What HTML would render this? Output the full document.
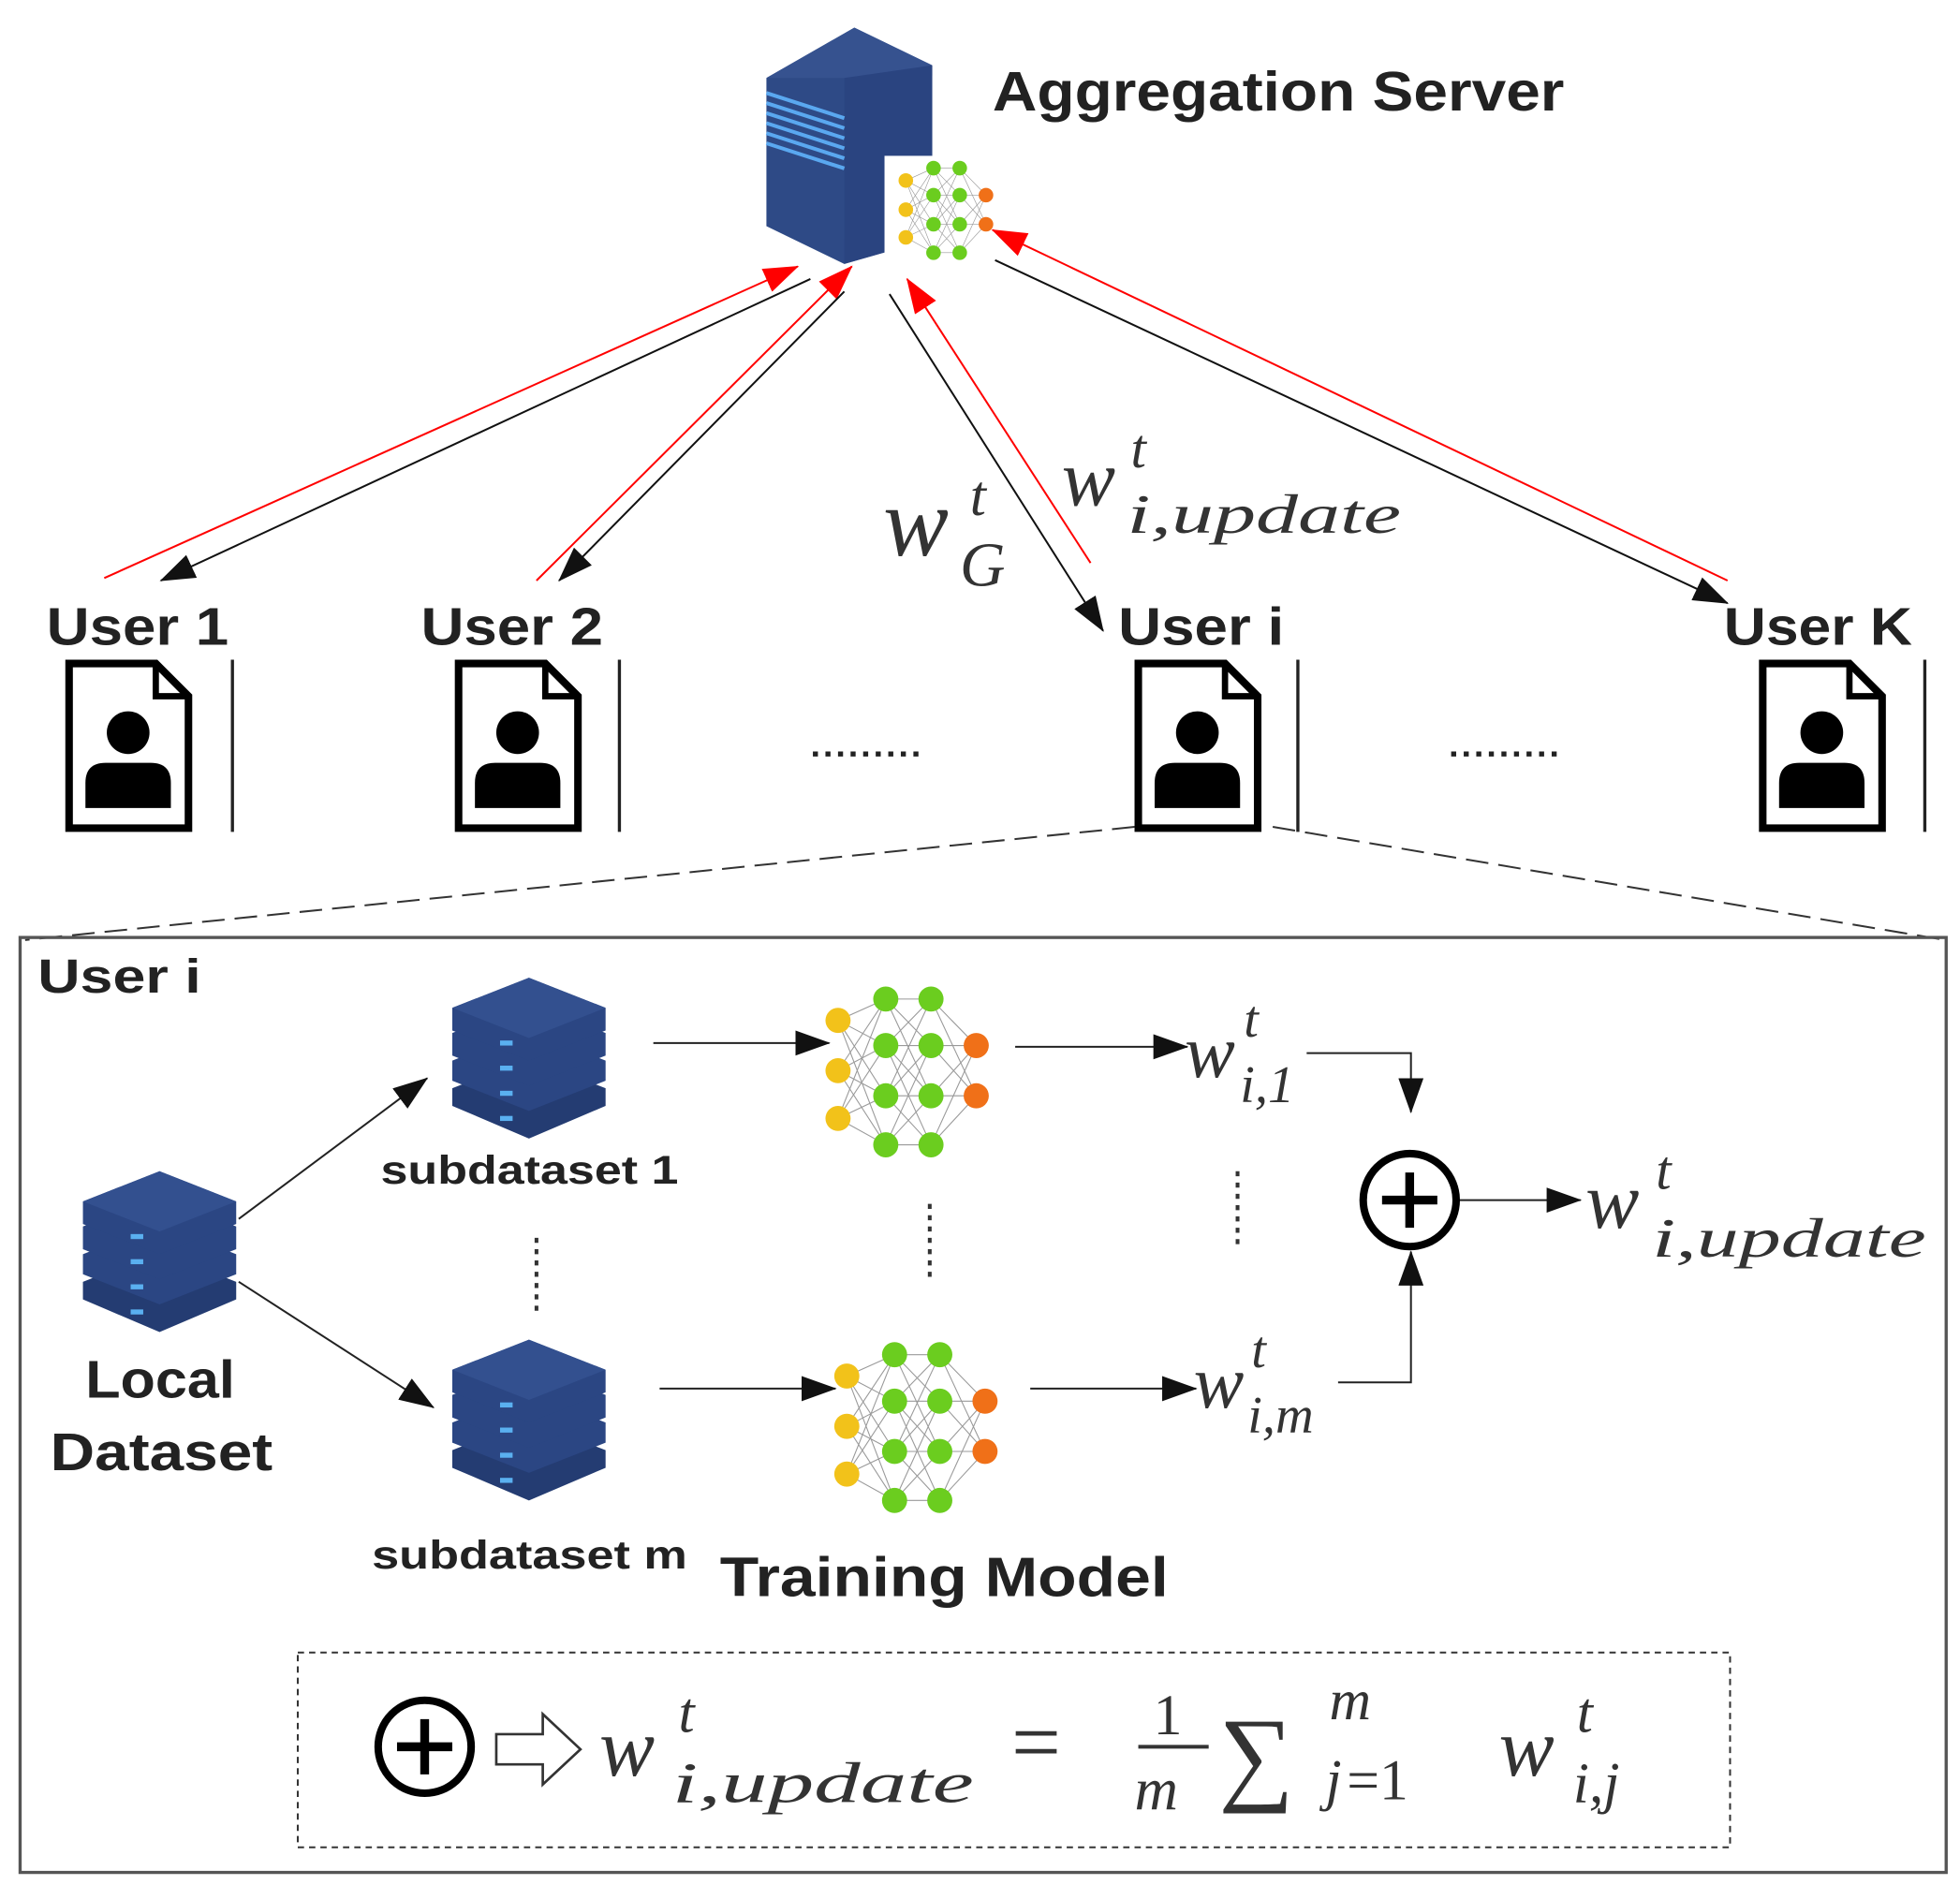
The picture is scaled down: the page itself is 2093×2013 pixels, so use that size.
<!DOCTYPE html>
<html><head><meta charset="utf-8"><style>
html,body{margin:0;padding:0;background:#fff;}
svg{display:block;}
.b{font-family:"Liberation Sans",sans-serif;font-weight:bold;fill:#222;}
.m{font-family:"Liberation Serif",serif;font-style:italic;fill:#333;}
</style></head><body>
<svg width="2093" height="2013" viewBox="0 0 1560 1500" preserveAspectRatio="none" xmlns="http://www.w3.org/2000/svg">
<defs>
<marker id="akb" markerWidth="28" markerHeight="20" refX="27" refY="10" orient="auto" markerUnits="userSpaceOnUse"><path d="M0,0 L28,10 L0,20z" fill="#111"/></marker>
<marker id="arb" markerWidth="28" markerHeight="20" refX="27" refY="10" orient="auto" markerUnits="userSpaceOnUse"><path d="M0,0 L28,10 L0,20z" fill="#f00"/></marker>
<g id="doc">
<path d="M3,3 L72,3 L98,29 L98,134 L3,134 Z" fill="#fff" stroke="#000" stroke-width="6"/>
<path d="M72,3 L72,29 L98,29" fill="none" stroke="#000" stroke-width="5"/>
<circle cx="50" cy="58" r="17" fill="#000"/>
<path d="M16,118 L16,98 Q16,82 32,82 L68,82 Q84,82 84,98 L84,118 Z" fill="#000"/>
</g>
<g id="db">
<g fill="#2b4683">
<path d="M0,82 L61,58 L122,82 L122,96 L61,122 L0,96Z" fill="#243c72"/>
<path d="M0,60 L61,36 L122,60 L122,76 L61,100 L0,76Z"/>
<path d="M0,38 L61,14 L122,38 L122,56 L61,80 L0,56Z"/>
<path d="M0,18 L61,-6 L122,18 L122,36 L61,60 L0,36Z"/>
<path d="M0,18 L61,-6 L122,18 L61,42Z" fill="#33508f"/>
</g>
<g fill="#5ab0f0"><rect x="38" y="44" width="10" height="4"/><rect x="38" y="64" width="10" height="4"/><rect x="38" y="84" width="10" height="4"/><rect x="38" y="104" width="10" height="4"/></g>
</g>
<g id="nn">
<g stroke="#999" stroke-width="0.8">
<path d="M12,27 L50,10 M12,27 L50,47 M12,27 L50,87 M12,27 L50,126 M12,67 L50,10 M12,67 L50,47 M12,67 L50,87 M12,67 L50,126 M12,105 L50,10 M12,105 L50,47 M12,105 L50,87 M12,105 L50,126"/>
<path d="M50,10 L86,47 M50,10 L86,87 M50,47 L86,10 M50,47 L86,87 M50,47 L86,126 M50,87 L86,10 M50,87 L86,47 M50,87 L86,126 M50,126 L86,47 M50,126 L86,87 M50,10 L86,10 M50,47 L86,47 M50,87 L86,87 M50,126 L86,126"/>
<path d="M86,10 L122,47 M86,47 L122,47 M86,87 L122,47 M86,126 L122,47 M86,10 L122,87 M86,47 L122,87 M86,87 L122,87 M86,126 L122,87"/>
</g>
<g fill="#f2c21a"><circle cx="12" cy="27" r="10"/><circle cx="12" cy="67" r="10"/><circle cx="12" cy="105" r="10"/></g>
<g fill="#6bcd1f"><circle cx="50" cy="10" r="10"/><circle cx="50" cy="47" r="10"/><circle cx="50" cy="87" r="10"/><circle cx="50" cy="126" r="10"/><circle cx="86" cy="10" r="10"/><circle cx="86" cy="47" r="10"/><circle cx="86" cy="87" r="10"/><circle cx="86" cy="126" r="10"/></g>
<g fill="#f07018"><circle cx="122" cy="47" r="10"/><circle cx="122" cy="87" r="10"/></g>
</g>
</defs>

<!-- server -->
<path d="M610,62 L680,22 L742,52 L742,190 L672,210 L610,180Z" fill="#2e4a86"/>
<path d="M672,60 L742,52 L742,190 L672,210Z" fill="#2a4480"/>
<path d="M610,62 L680,22 L742,52 L672,62Z" fill="#36528f"/>
<g stroke="#5aa8f0" stroke-width="3">
<line x1="610" y1="74" x2="672" y2="94"/><line x1="610" y1="82" x2="672" y2="102"/><line x1="610" y1="90" x2="672" y2="110"/><line x1="610" y1="98" x2="672" y2="118"/><line x1="610" y1="106" x2="672" y2="126"/><line x1="610" y1="114" x2="672" y2="134"/>
</g>
<rect x="704" y="124" width="86" height="78" fill="#fff"/>
<g transform="translate(714,128) scale(0.58)"><use href="#nn"/></g>
<text x="790" y="88" class="b" font-size="44" textLength="455" lengthAdjust="spacingAndGlyphs">Aggregation Server</text>

<!-- arrows -->
<g stroke-width="1.5" fill="none">
<line x1="83" y1="460" x2="635" y2="212" stroke="#f00" marker-end="url(#arb)"/>
<line x1="645" y1="222" x2="128" y2="462" stroke="#111" marker-end="url(#akb)"/>
<line x1="427" y1="462" x2="678" y2="212" stroke="#f00" marker-end="url(#arb)"/>
<line x1="672" y1="232" x2="445" y2="462" stroke="#111" marker-end="url(#akb)"/>
<line x1="708" y1="234" x2="878" y2="502" stroke="#111" marker-end="url(#akb)"/>
<line x1="868" y1="448" x2="722" y2="222" stroke="#f00" marker-end="url(#arb)"/>
<line x1="792" y1="207" x2="1375" y2="480" stroke="#111" marker-end="url(#akb)"/>
<line x1="1375" y1="462" x2="790" y2="183" stroke="#f00" marker-end="url(#arb)"/>
</g>
<text x="703" y="442" class="m" font-size="78">w</text><text x="772" y="410" class="m" font-size="46">t</text><text x="764" y="466" class="m" font-size="50">G</text>
<text x="845" y="402" class="m" font-size="64">w</text><text x="900" y="372" class="m" font-size="44">t</text><text x="897" y="424" class="m" font-size="44" textLength="218" lengthAdjust="spacingAndGlyphs">i,update</text>

<!-- users -->
<text x="37" y="513" class="b" font-size="42" textLength="145" lengthAdjust="spacingAndGlyphs">User 1</text>
<text x="335" y="513" class="b" font-size="42" textLength="145" lengthAdjust="spacingAndGlyphs">User 2</text>
<text x="890" y="513" class="b" font-size="42" textLength="132" lengthAdjust="spacingAndGlyphs">User i</text>
<text x="1372" y="513" class="b" font-size="42" textLength="150" lengthAdjust="spacingAndGlyphs">User K</text>
<g transform="translate(52,525)"><use href="#doc"/></g>
<g transform="translate(362,525)"><use href="#doc"/></g>
<g transform="translate(903,525)"><use href="#doc"/></g>
<g transform="translate(1400,525)"><use href="#doc"/></g>
<g stroke="#222" stroke-width="2.5"><line x1="185" y1="525" x2="185" y2="662"/><line x1="493" y1="525" x2="493" y2="662"/><line x1="1033" y1="525" x2="1033" y2="662"/><line x1="1532" y1="525" x2="1532" y2="662"/></g>
<g stroke="#222" stroke-width="4" stroke-dasharray="4,6"><line x1="647" y1="600" x2="732" y2="600"/><line x1="1155" y1="600" x2="1240" y2="600"/></g>
<g stroke="#333" stroke-width="1.5" stroke-dasharray="18,8"><line x1="903" y1="658" x2="20" y2="748"/><line x1="1013" y1="658" x2="1548" y2="748"/></g>

<!-- box -->
<rect x="16" y="746" width="1533" height="744" fill="none" stroke="#555" stroke-width="2.5"/>
<text x="30" y="790" class="b" font-size="38" textLength="130" lengthAdjust="spacingAndGlyphs">User i</text>
<g transform="translate(66,938)"><use href="#db"/></g>
<g transform="translate(360,784)"><use href="#db"/></g>
<g transform="translate(360,1072)"><use href="#db"/></g>
<text x="68" y="1112" class="b" font-size="42" textLength="119" lengthAdjust="spacingAndGlyphs">Local</text>
<text x="40" y="1170" class="b" font-size="42" textLength="177" lengthAdjust="spacingAndGlyphs">Dataset</text>
<text x="303" y="942" class="b" font-size="32" textLength="237" lengthAdjust="spacingAndGlyphs">subdataset 1</text>
<text x="296" y="1248" class="b" font-size="32" textLength="251" lengthAdjust="spacingAndGlyphs">subdataset m</text>
<text x="573" y="1270" class="b" font-size="44" textLength="357" lengthAdjust="spacingAndGlyphs">Training Model</text>

<g stroke="#222" stroke-width="1.5" fill="none">
<line x1="190" y1="970" x2="340" y2="858" marker-end="url(#akb)"/>
<line x1="190" y1="1020" x2="345" y2="1120" marker-end="url(#akb)"/>
<line x1="520" y1="830" x2="660" y2="830" marker-end="url(#akb)"/>
<line x1="808" y1="833" x2="945" y2="833" marker-end="url(#akb)"/>
<line x1="525" y1="1105" x2="665" y2="1105" marker-end="url(#akb)"/>
<line x1="820" y1="1105" x2="952" y2="1105" marker-end="url(#akb)"/>
<polyline points="1040,838 1123,838 1123,885" marker-end="url(#akb)"/>
<polyline points="1065,1100 1123,1100 1123,996" marker-end="url(#akb)"/>
<line x1="1162" y1="955" x2="1258" y2="955" marker-end="url(#akb)"/>
</g>
<g stroke="#333" stroke-width="3" stroke-dasharray="4,5"><line x1="427" y1="985" x2="427" y2="1045"/><line x1="740" y1="958" x2="740" y2="1020"/><line x1="985" y1="932" x2="985" y2="995"/></g>

<g transform="translate(655,785)"><use href="#nn"/></g>
<g transform="translate(662,1068)"><use href="#nn"/></g>

<text x="943" y="857" class="m" font-size="60">w</text><text x="990" y="825" class="m" font-size="42">t</text><text x="987" y="877" class="m" font-size="42">i,1</text>
<text x="950" y="1120" class="m" font-size="60">w</text><text x="996" y="1088" class="m" font-size="42">t</text><text x="993" y="1140" class="m" font-size="42">i,m</text>

<circle cx="1122" cy="955" r="37" fill="#fff" stroke="#000" stroke-width="6"/>
<path d="M1100,955 L1144,955 M1122,933 L1122,977" stroke="#000" stroke-width="7"/>
<text x="1262" y="977" class="m" font-size="64">w</text><text x="1318" y="946" class="m" font-size="44">t</text><text x="1315" y="1000" class="m" font-size="44" textLength="218" lengthAdjust="spacingAndGlyphs">i,update</text>

<rect x="237" y="1315" width="1140" height="155" fill="none" stroke="#333" stroke-width="1.5" stroke-dasharray="5,4"/>
<circle cx="338" cy="1390" r="37" fill="#fff" stroke="#000" stroke-width="6"/>
<path d="M316,1390 L360,1390 M338,1368 L338,1412" stroke="#000" stroke-width="7"/>
<path d="M395,1380 L432,1380 L432,1364 L462,1392 L432,1420 L432,1404 L395,1404Z" fill="#fff" stroke="#333" stroke-width="2"/>
<text x="477" y="1413" class="m" font-size="66">w</text><text x="540" y="1378" class="m" font-size="46">t</text><text x="535" y="1434" class="m" font-size="46" textLength="240" lengthAdjust="spacingAndGlyphs">i,update</text>
<text x="805" y="1410" font-family="Liberation Serif,serif" font-size="70" fill="#333">=</text>
<text x="918" y="1380" font-family="Liberation Serif,serif" font-size="46" fill="#333">1</text>
<line x1="906" y1="1390" x2="962" y2="1390" stroke="#333" stroke-width="3"/>
<text x="903" y="1440" class="m" font-size="48">m</text>
<text x="970" y="1425" font-family="Liberation Serif,serif" font-size="84" fill="#333">∑</text>
<text x="1058" y="1368" class="m" font-size="46">m</text>
<text x="1055" y="1432" class="m" font-size="46">j</text><text x="1072" y="1432" font-family="Liberation Serif,serif" font-size="46" fill="#333">=1</text>
<text x="1193" y="1413" class="m" font-size="66">w</text><text x="1255" y="1378" class="m" font-size="46">t</text><text x="1252" y="1434" class="m" font-size="46">i,j</text>
</svg>
</body></html>
